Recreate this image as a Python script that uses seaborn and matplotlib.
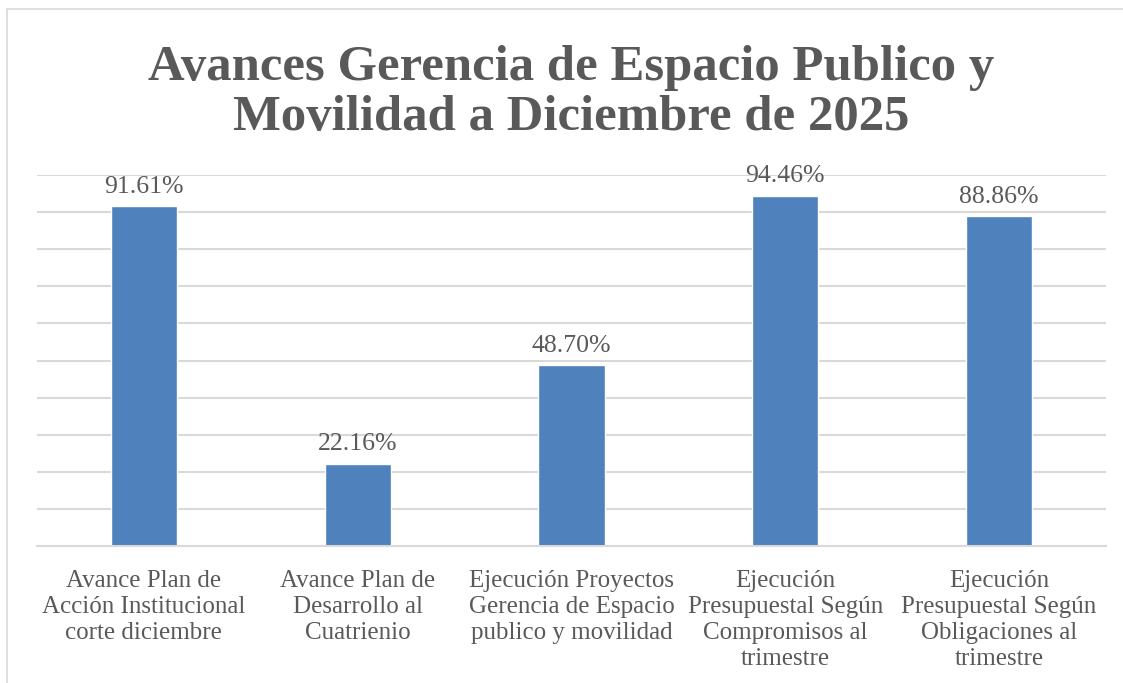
"""Bar chart of progress indicators for the Gerencia de Espacio Publico y Movilidad."""

import matplotlib

matplotlib.use("Agg")

import matplotlib.pyplot as plt
import pandas as pd
import seaborn as sns
from matplotlib.lines import Line2D

CATEGORIES = [
    "Avance Plan de\nAcción Institucional\ncorte diciembre",
    "Avance Plan de\nDesarrollo al\nCuatrienio",
    "Ejecución Proyectos\nGerencia de Espacio\npublico y movilidad",
    "Ejecución\nPresupuestal Según\nCompromisos al\ntrimestre",
    "Ejecución\nPresupuestal Según\nObligaciones al\ntrimestre",
]
VALUES = [91.61, 22.16, 48.70, 94.46, 88.86]
TITLE = "Avances Gerencia de Espacio Publico y\nMovilidad a Diciembre de 2025"

BAR_COLOR = "#4F81BD"
GRID_COLOR = "#D9D9D9"
TEXT_COLOR = "#595959"

sns.set_theme(style="white")
plt.rcParams["font.family"] = ["Liberation Serif", "DejaVu Serif"]

df = pd.DataFrame({"Categoria": CATEGORIES, "Valor": VALUES})

fig = plt.figure(figsize=(11.23, 6.83), dpi=100)
ax = fig.add_axes([37 / 1123, 137 / 683, 1069 / 1123, 371 / 683])

sns.barplot(data=df, x="Categoria", y="Valor", color=BAR_COLOR, width=0.31,
            saturation=1, ax=ax)
ax.bar_label(ax.containers[0], fmt="{:.2f}%", padding=6, fontsize=18.5,
             color=TEXT_COLOR)

ax.set_ylim(0, 100)
ax.set_yticks(range(0, 101, 10))
ax.set_yticklabels([])
ax.yaxis.grid(True, color=GRID_COLOR, linewidth=1.5)
ax.set_axisbelow(True)
ax.tick_params(axis="both", length=0)
ax.tick_params(axis="x", pad=17, labelsize=18, labelcolor=TEXT_COLOR)
for lbl in ax.get_xticklabels():
    lbl.set_linespacing(1.25)
ax.set_xlabel("")
ax.set_ylabel("")
for side in ["left", "right", "top"]:
    ax.spines[side].set_visible(False)
ax.spines["bottom"].set_color(GRID_COLOR)
ax.spines["bottom"].set_linewidth(1.5)

fig.text(571 / 1123, 1 - 93 / 683, TITLE, ha="center", va="center",
         fontsize=36.5, fontweight="bold", color=TEXT_COLOR, linespacing=1.12)

# chart frame (only top and left edges are visible in the crop)
fig.add_artist(Line2D([7 / 1123, 1.0], [1 - 9 / 683, 1 - 9 / 683],
                      color=GRID_COLOR, linewidth=1.2))
fig.add_artist(Line2D([7 / 1123, 7 / 1123], [0.0, 1 - 9 / 683],
                      color=GRID_COLOR, linewidth=1.2))

fig.savefig("out.png", dpi=100, facecolor="white")
